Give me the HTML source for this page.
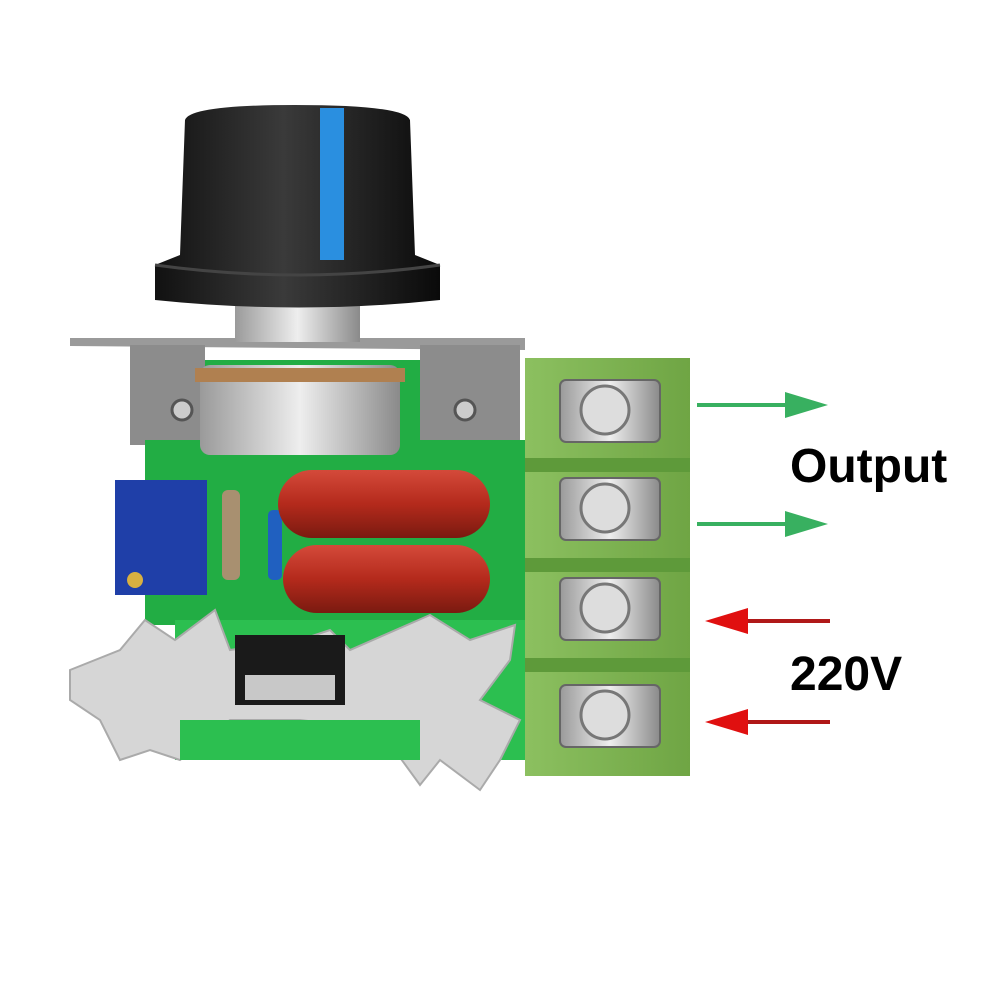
<!DOCTYPE html>
<html><head><meta charset="utf-8"><style>html,body{margin:0;padding:0;background:#fff}svg{display:block}</style></head>
<body>
<svg width="1002" height="1002" viewBox="0 0 1002 1002" xmlns="http://www.w3.org/2000/svg">
<defs>
<linearGradient id="knob" x1="0" x2="1"><stop offset="0" stop-color="#111"/><stop offset="0.45" stop-color="#3a3a3a"/><stop offset="1" stop-color="#0a0a0a"/></linearGradient>
<linearGradient id="metal" x1="0" x2="1"><stop offset="0" stop-color="#9a9a9a"/><stop offset="0.5" stop-color="#eee"/><stop offset="1" stop-color="#8a8a8a"/></linearGradient>
<linearGradient id="cap" x1="0" y1="0" x2="0" y2="1"><stop offset="0" stop-color="#d44a3a"/><stop offset="0.5" stop-color="#b42a1c"/><stop offset="1" stop-color="#7a1a10"/></linearGradient>
<linearGradient id="tb" x1="0" x2="1"><stop offset="0" stop-color="#8cc060"/><stop offset="1" stop-color="#6fa544"/></linearGradient>
</defs>
<polygon points="70,338 525,338 525,350 70,346" fill="#9a9a9a"/>
<rect x="130" y="345" width="75" height="100" fill="#8c8c8c"/>
<rect x="420" y="345" width="100" height="100" fill="#8c8c8c"/>
<circle cx="182" cy="410" r="10" fill="#ccc" stroke="#555" stroke-width="3"/>
<circle cx="465" cy="410" r="10" fill="#ccc" stroke="#555" stroke-width="3"/>
<rect x="145" y="440" width="385" height="185" fill="#22ad44"/>
<rect x="205" y="360" width="215" height="85" fill="#22ad44"/>
<rect x="175" y="620" width="355" height="140" fill="#2cbf50"/>
<rect x="200" y="365" width="200" height="90" rx="10" fill="url(#metal)"/>
<rect x="195" y="368" width="210" height="14" fill="#b08050"/>
<rect x="235" y="300" width="125" height="42" fill="url(#metal)"/>
<path d="M185,120 Q190,105 295,105 Q405,105 410,120 L415,255 L440,265 L440,300 Q300,315 155,300 L155,265 L180,255 Z" fill="url(#knob)"/>
<rect x="320" y="108" width="24" height="152" fill="#2a8fe0"/>
<path d="M155,265 Q300,285 440,265" stroke="#444" stroke-width="3" fill="none"/>
<rect x="115" y="480" width="92" height="115" fill="#1f3fa8"/>
<circle cx="135" cy="580" r="8" fill="#d8b040"/>
<rect x="222" y="490" width="18" height="90" rx="6" fill="#a89070"/>
<rect x="268" y="510" width="14" height="70" rx="5" fill="#2060c0"/>
<rect x="278" y="470" width="212" height="68" rx="34" fill="url(#cap)"/>
<rect x="283" y="545" width="207" height="68" rx="34" fill="url(#cap)"/>
<g fill="#d6d6d6" stroke="#aaa" stroke-width="2">
<polygon points="70,670 120,650 145,620 175,640 215,610 230,650 300,640 330,630 350,650 430,615 470,640 515,625 510,660 480,700 520,720 500,760 480,790 440,760 420,785 380,730 300,720 230,720 180,760 150,750 120,760 100,720 70,700"/>
</g>
<rect x="235" y="635" width="110" height="70" fill="#1a1a1a"/>
<rect x="245" y="675" width="90" height="25" fill="#c8c8c8"/>
<rect x="180" y="720" width="240" height="40" fill="#2cbf50"/>
<rect x="525" y="358" width="165" height="418" fill="url(#tb)"/>
<g fill="#5e9a3a"><rect x="525" y="458" width="165" height="14"/><rect x="525" y="558" width="165" height="14"/><rect x="525" y="658" width="165" height="14"/></g>
<g fill="url(#metal)" stroke="#666" stroke-width="2">
<rect x="560" y="380" width="100" height="62" rx="6"/><rect x="560" y="478" width="100" height="62" rx="6"/><rect x="560" y="578" width="100" height="62" rx="6"/><rect x="560" y="685" width="100" height="62" rx="6"/>
</g>
<g fill="#ddd" stroke="#777" stroke-width="3">
<circle cx="605" cy="410" r="24"/><circle cx="605" cy="508" r="24"/><circle cx="605" cy="608" r="24"/><circle cx="605" cy="715" r="24"/>
</g>
<g stroke="#38b060" stroke-width="4"><line x1="697" y1="405" x2="790" y2="405"/><line x1="697" y1="524" x2="790" y2="524"/></g>
<polygon points="785,392 828,405 785,418" fill="#38b060"/>
<polygon points="785,511 828,524 785,537" fill="#38b060"/>
<g stroke="#b01818" stroke-width="4"><line x1="745" y1="621" x2="830" y2="621"/><line x1="745" y1="722" x2="830" y2="722"/></g>
<polygon points="748,608 705,621 748,634" fill="#e01010"/>
<polygon points="748,709 705,722 748,735" fill="#e01010"/>
<text x="790" y="482" font-family="Liberation Sans, sans-serif" font-size="48" font-weight="bold" fill="#000">Output</text>
<text x="790" y="690" font-family="Liberation Sans, sans-serif" font-size="48" font-weight="bold" fill="#000">220V</text>
</svg>
</body></html>
